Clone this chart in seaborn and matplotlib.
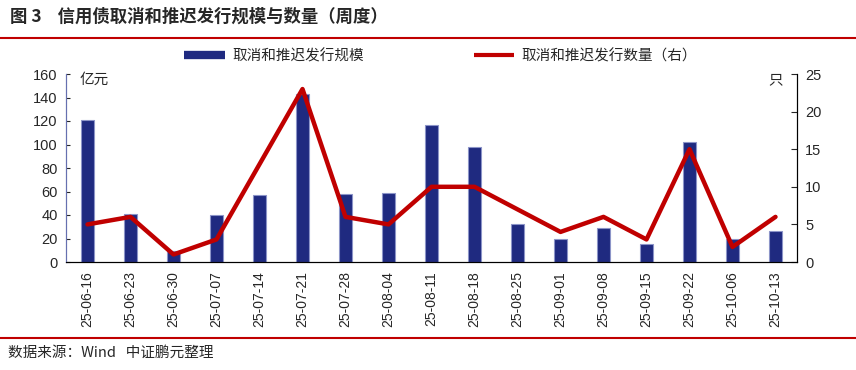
import matplotlib
matplotlib.use("Agg")
import matplotlib.pyplot as plt
import seaborn as sns
import pandas as pd
from matplotlib.lines import Line2D

# 数据
weeks = ["25-06-16", "25-06-23", "25-06-30", "25-07-07", "25-07-14", "25-07-21",
         "25-07-28", "25-08-04", "25-08-11", "25-08-18", "25-08-25", "25-09-01",
         "25-09-08", "25-09-15", "25-09-22", "25-10-06", "25-10-13"]
scale = [121, 41, 9, 40, 57, 143, 58, 59, 117, 98, 32, 20, 29, 15, 102, 20, 26]
count = [5, 6, 1, 3, 13, 23, 6, 5, 10, 10, 7, 4, 6, 3, 15, 2, 6]

df = pd.DataFrame({"week": weeks, "scale": scale, "count": count})

sns.set_style("white")
plt.rcParams["font.family"] = ["Liberation Sans", "Noto Sans CJK SC", "DejaVu Sans"]
cjk = ["Noto Sans CJK SC", "DejaVu Sans"]

bar_color = "#1F2A80"
line_color = "#C00000"

fig = plt.figure(figsize=(8.56, 3.70), dpi=100)
ax = fig.add_axes([66 / 856, 1 - 262 / 370, (797 - 66) / 856, (262 - 74) / 370])

sns.barplot(data=df, x="week", y="scale", color=bar_color, width=0.3,
            edgecolor="#8C94C8", linewidth=0.8, saturation=1, ax=ax)
ax.set_ylim(0, 160)
ax.set_yticks(range(0, 161, 20))
ax.set_xlim(-0.5, len(weeks) - 0.5)
ax.set_xlabel("")
ax.set_ylabel("")
ax.tick_params(axis="x", rotation=90, labelsize=10, length=3, direction="out")
ax.tick_params(axis="y", labelsize=10.5, length=3, direction="in", pad=6)

ax2 = ax.twinx()
sns.lineplot(x=list(range(len(weeks))), y=df["count"], color=line_color,
             linewidth=3.2, ax=ax2)
ax2.set_ylim(0, 25)
ax2.set_yticks(range(0, 26, 5))
ax2.set_ylabel("")
ax2.tick_params(axis="y", labelsize=10.5, length=4, direction="in", pad=6)

for a in (ax, ax2):
    a.spines["top"].set_visible(False)
    a.spines["left"].set_color("#6670B0")
    a.spines["right"].set_color("black")
    a.spines["bottom"].set_color("black")

fig.text(80 / 856, 1 - 80 / 370, "亿元", ha="left", va="center",
         fontsize=10.5, family=cjk)
fig.text(783 / 856, 1 - 80 / 370, "只", ha="right", va="center",
         fontsize=10.5, family=cjk)

handles = [Line2D([0], [0], color=bar_color, linewidth=6, solid_capstyle="butt"),
           Line2D([0], [0], color=line_color, linewidth=3, solid_capstyle="butt")]
labels = ["取消和推迟发行规模", "取消和推迟发行数量（右）"]
fig.legend(handles, labels, loc="center", bbox_to_anchor=(0.515, 1 - 56 / 370),
           ncol=2, frameon=False, prop={"family": cjk, "size": 10.5},
           handlelength=2.8, handletextpad=0.5, columnspacing=7.5)

# 标题与来源
fig.text(10 / 856, 1 - 17 / 370, "图 3    信用债取消和推迟发行规模与数量（周度）",
         ha="left", va="center", fontsize=12.5, fontweight="bold", family=cjk)
fig.add_artist(Line2D([0, 1], [1 - 38 / 370] * 2, color=line_color, linewidth=1.5))
fig.add_artist(Line2D([0, 1], [1 - 338 / 370] * 2, color=line_color, linewidth=1.5))
fig.text(8 / 856, 1 - 353 / 370, "数据来源：Wind   中证鹏元整理", ha="left",
         va="center", fontsize=10.5, family=cjk)

fig.savefig("out.png", dpi=100)
